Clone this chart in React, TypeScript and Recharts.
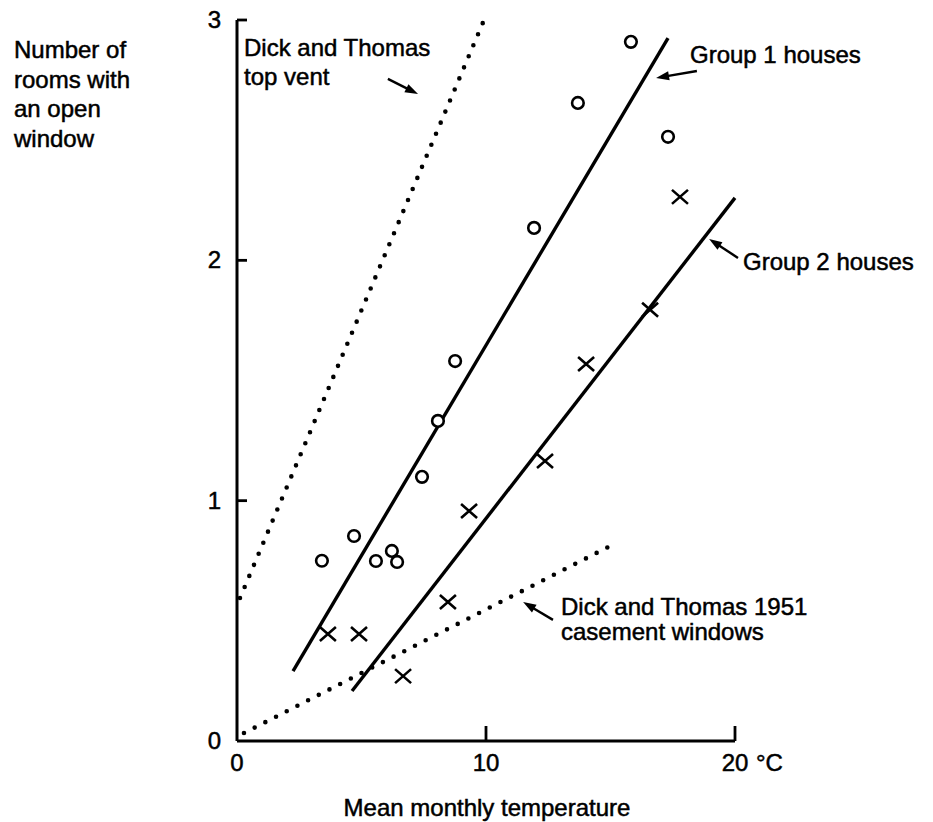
import React from 'react';
import { ComposedChart, Line, Scatter, XAxis, YAxis, ReferenceLine } from 'recharts';

const W = 933;
const H = 822;

// Group 1 houses (open circles)
const group1Points = [
  { x: 3.41, y: 0.75 },
  { x: 4.7, y: 0.853 },
  { x: 5.58, y: 0.749 },
  { x: 6.22, y: 0.791 },
  { x: 6.43, y: 0.745 },
  { x: 7.43, y: 1.099 },
  { x: 8.07, y: 1.332 },
  { x: 8.76, y: 1.581 },
  { x: 11.93, y: 2.135 },
  { x: 13.69, y: 2.655 },
  { x: 15.82, y: 2.909 },
  { x: 17.31, y: 2.514 },
];

// Group 2 houses (crosses)
const group2Points = [
  { x: 3.65, y: 0.445 },
  { x: 4.9, y: 0.445 },
  { x: 6.67, y: 0.27 },
  { x: 8.47, y: 0.578 },
  { x: 9.32, y: 0.957 },
  { x: 12.37, y: 1.165 },
  { x: 14.02, y: 1.569 },
  { x: 16.59, y: 1.794 },
  { x: 17.79, y: 2.264 },
];

const group1Fit = [
  { x: 2.25, y: 0.291 },
  { x: 17.31, y: 2.925 },
];
const group2Fit = [
  { x: 4.62, y: 0.208 },
  { x: 20, y: 2.26 },
];
const topVentLine = [
  { x: 0.12, y: 0.595 },
  { x: 9.88, y: 2.99 },
];
const casementLine = [
  { x: 0.28, y: 0.033 },
  { x: 14.98, y: 0.811 },
];

const xTicks = [0, 10, 20];
const yTicks = [0, 1, 2, 3];

const arrows = [
  { from: { x: 6.06, y: 2.755 }, to: { x: 7.27, y: 2.692 } },
  { from: { x: 18.47, y: 2.788 }, to: { x: 16.83, y: 2.759 } },
  { from: { x: 20.12, y: 2.01 }, to: { x: 18.96, y: 2.089 } },
  { from: { x: 12.69, y: 0.504 }, to: { x: 11.49, y: 0.578 } },
];

const FONT = '"Liberation Sans", Arial, sans-serif';
const FS = 24;

const CircleMark = (p: any) => (
  <circle cx={p.cx} cy={p.cy} r={5.8} fill="#fff" stroke="#000" strokeWidth={2.6} />
);

const CrossMark = (p: any) => {
  const { cx, cy } = p;
  const a = 8;
  const b = 7;
  return (
    <path
      d={`M${cx - a},${cy - b}L${cx + a},${cy + b}M${cx + a},${cy - b}L${cx - a},${cy + b}`}
      stroke="#000"
      strokeWidth={2.6}
      fill="none"
    />
  );
};

const ArrowShape = (p: any) => {
  const x1 = Number(p.x1);
  const y1 = Number(p.y1);
  const x2 = Number(p.x2);
  const y2 = Number(p.y2);
  const dx = x2 - x1;
  const dy = y2 - y1;
  const len = Math.hypot(dx, dy) || 1;
  const ux = dx / len;
  const uy = dy / len;
  const hl = 13;
  const hw = 4.5;
  const bx = x2 - ux * hl;
  const by = y2 - uy * hl;
  return (
    <g>
      <line x1={x1} y1={y1} x2={bx + ux * 2} y2={by + uy * 2} stroke="#000" strokeWidth={2.4} />
      <polygon
        points={`${x2},${y2} ${bx - uy * hw},${by + ux * hw} ${bx + uy * hw},${by - ux * hw}`}
        fill="#000"
      />
    </g>
  );
};

const textStyle = {
  fontFamily: FONT,
  fontSize: FS,
  fill: '#000',
  stroke: '#000',
  strokeWidth: 0.5,
} as const;

const XTick = (p: any) => {
  const { x, y, payload } = p;
  const v = payload.value;
  return (
    <g>
      {v !== 0 && <line x1={x} y1={y} x2={x} y2={y - 15} stroke="#000" strokeWidth={2.8} />}
      <text x={x} y={y + 30} textAnchor="middle" {...textStyle}>
        {v}
      </text>
      {v === 20 && (
        <text x={x + 21} y={y + 30} textAnchor="start" {...textStyle}>
          °C
        </text>
      )}
    </g>
  );
};

const YTick = (p: any) => {
  const { x, y, payload } = p;
  const v = payload.value;
  return (
    <g>
      {v !== 0 && <line x1={x} y1={y} x2={x + 10} y2={y} stroke="#000" strokeWidth={2.8} />}
      <text x={x - 16} y={y + 8} textAnchor="end" {...textStyle}>
        {v}
      </text>
    </g>
  );
};

export default function App() {
  return (
    <div style={{ position: 'absolute', left: 0, top: 0, width: W, height: H, background: '#fff' }}>
      <ComposedChart
        width={W}
        height={H}
        margin={{ top: 20, right: 198, bottom: 51, left: 177 }}
        style={{ background: '#fff' }}
      >
        <XAxis
          type="number"
          dataKey="x"
          domain={[0, 20]}
          ticks={xTicks}
          tickSize={0}
          tickMargin={0}
          tickLine={false}
          axisLine={{ stroke: '#000', strokeWidth: 3 }}
          tick={<XTick />}
          height={30}
          interval={0}
        />
        <YAxis
          type="number"
          dataKey="y"
          domain={[0, 3]}
          ticks={yTicks}
          tickSize={0}
          tickMargin={0}
          tickLine={false}
          axisLine={{ stroke: '#000', strokeWidth: 3 }}
          tick={<YTick />}
          width={60}
          interval={0}
        />
        <Line
          data={topVentLine}
          dataKey="y"
          stroke="#000"
          strokeWidth={4.6}
          strokeDasharray="0 12"
          strokeLinecap="round"
          dot={false}
          activeDot={false}
          isAnimationActive={false}
        />
        <Line
          data={casementLine}
          dataKey="y"
          stroke="#000"
          strokeWidth={4.6}
          strokeDasharray="0 12"
          strokeLinecap="round"
          dot={false}
          activeDot={false}
          isAnimationActive={false}
        />
        <Line
          data={group1Fit}
          dataKey="y"
          stroke="#000"
          strokeWidth={3.4}
          dot={false}
          activeDot={false}
          isAnimationActive={false}
        />
        <Line
          data={group2Fit}
          dataKey="y"
          stroke="#000"
          strokeWidth={3.4}
          dot={false}
          activeDot={false}
          isAnimationActive={false}
        />
        <Scatter data={group1Points} shape={CircleMark} isAnimationActive={false} />
        <Scatter data={group2Points} shape={CrossMark} isAnimationActive={false} />
        {arrows.map((a, i) => (
          <ReferenceLine
            key={i}
            segment={[a.from, a.to]}
            ifOverflow="visible"
            shape={ArrowShape}
          />
        ))}
      </ComposedChart>
      <svg
        width={W}
        height={H}
        style={{ position: 'absolute', left: 0, top: 0, pointerEvents: 'none' }}
      >
        <text x={14} y={58} {...textStyle}>Number of</text>
        <text x={14} y={88} {...textStyle}>rooms with</text>
        <text x={14} y={117} {...textStyle}>an open</text>
        <text x={14} y={147} {...textStyle}>window</text>
        <text x={244} y={56} {...textStyle}>Dick and Thomas</text>
        <text x={244} y={85} {...textStyle}>top vent</text>
        <text x={690} y={63} {...textStyle}>Group 1 houses</text>
        <text x={743} y={270} {...textStyle}>Group 2 houses</text>
        <text x={561} y={615} {...textStyle}>Dick and Thomas 1951</text>
        <text x={561} y={640} {...textStyle}>casement windows</text>
        <text x={487} y={816} textAnchor="middle" {...textStyle}>Mean monthly temperature</text>
      </svg>
    </div>
  );
}
